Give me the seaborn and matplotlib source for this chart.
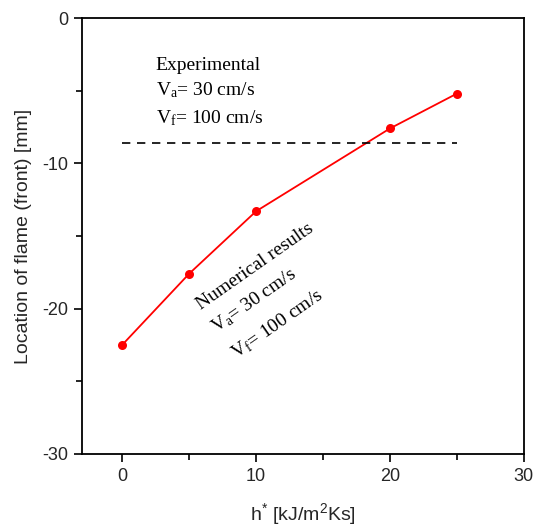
import matplotlib
matplotlib.use("Agg")
import matplotlib.pyplot as plt
from matplotlib.ticker import MultipleLocator
import pandas as pd
import seaborn as sns

# numerical results (red curve)
h_num = [0, 5, 10, 20, 25]
loc_num = [-22.5, -17.6, -13.3, -7.6, -5.2]

# experimental flame location (dashed line)
exp_loc = -8.6
exp_span = [0, 25]

sns.set_theme(style="white")
plt.rcParams['font.family'] = ['Liberation Sans', 'DejaVu Sans']
plt.rcParams['mathtext.default'] = 'regular'
plt.rcParams['axes.unicode_minus'] = False

df = pd.DataFrame({'h': h_num, 'loc': loc_num})

fig = plt.figure(figsize=(5.4, 5.32), dpi=100)
ax = fig.add_axes([0.152, 0.147, 0.818, 0.819])

sns.lineplot(data=df, x='h', y='loc', color='red', linewidth=1.3,
             marker='o', markersize=6.5, markeredgewidth=0, ax=ax)
ax.plot(exp_span, [exp_loc, exp_loc], color='black', linestyle=(0, (5, 4)), linewidth=1.2)

ax.set_xlim(-3, 30)
ax.set_ylim(-30, 0)
ax.xaxis.set_major_locator(MultipleLocator(10))
ax.xaxis.set_minor_locator(MultipleLocator(5))
ax.yaxis.set_major_locator(MultipleLocator(10))
ax.yaxis.set_minor_locator(MultipleLocator(5))
ax.tick_params(which='both', direction='out', bottom=True, left=True,
               top=False, right=False, color='black', width=1.2)
ax.tick_params(which='major', length=6, labelsize=13, pad=4)
ax.tick_params(which='minor', length=4)
for s in ax.spines.values():
    s.set_color('black')
    s.set_linewidth(1.3)

ax.set_xlabel('h$^{*}$ [kJ/m$^{2}$Ks]', fontsize=14, labelpad=12)
ax.set_ylabel('Location of flame (front) [mm]', fontsize=14, labelpad=7)

serif = dict(family=['Liberation Serif', 'DejaVu Serif'], fontsize=14, color='black')
ax.text(2.5, -3.6, 'Experimental', **serif)
ax.text(2.5, -5.35, 'V$_a$= 30 cm/s', **serif)
ax.text(2.5, -7.25, 'V$_f$= 100 cm/s', **serif)

rot = 35
ax.text(5.9, -20.1, 'Numerical results', rotation=rot, rotation_mode='anchor', **serif)
ax.text(7.0, -21.7, 'V$_a$= 30 cm/s', rotation=rot, rotation_mode='anchor', **serif)
ax.text(8.5, -23.5, 'V$_f$= 100 cm/s', rotation=rot, rotation_mode='anchor', **serif)

fig.savefig('out.png', dpi=100)
